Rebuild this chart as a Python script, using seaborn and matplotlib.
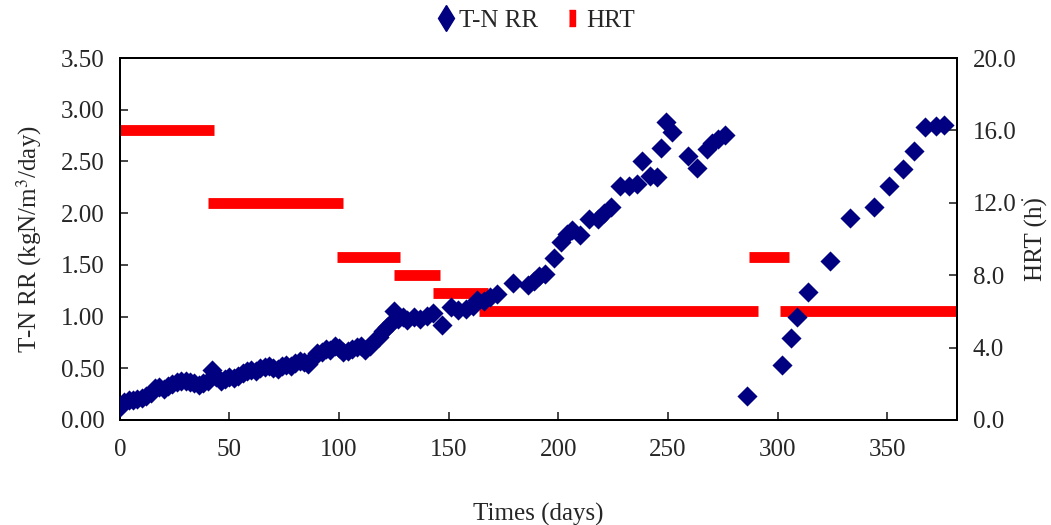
import numpy as np
import pandas as pd
import seaborn as sns
import matplotlib.pyplot as plt
from matplotlib.lines import Line2D

# T-N removal rate (kgN/m3/day) by day
days = [0, 2, 4, 6, 8, 10, 12, 14, 16, 18, 20, 22, 24, 26, 28, 30, 32, 34, 36, 38,
        40, 42, 44, 46, 48, 50, 52, 54, 56, 58, 60, 62, 64, 66, 68, 70, 72, 74, 76, 78,
        80, 82, 84, 86, 88, 90, 92, 94, 96, 98, 100, 102, 104, 106, 108, 110, 112, 114,
        116, 118, 120, 122, 124, 125, 127, 129, 131, 134, 137, 140, 143, 147, 151, 154,
        158, 161, 163, 166, 169, 172, 179.5, 186, 189, 191, 194, 198, 201, 204, 206, 210,
        214, 218, 221, 224, 228, 232, 236, 238, 242, 245, 247, 249, 252, 259, 263, 268,
        270, 273, 276, 286, 302, 306, 309, 314, 324, 333, 344, 351, 357, 362, 367, 372, 376]
tn_rr = [0.13, 0.17, 0.19, 0.19, 0.20, 0.21, 0.23, 0.26, 0.31, 0.32, 0.30, 0.33, 0.35, 0.37,
         0.38, 0.38, 0.37, 0.36, 0.34, 0.36, 0.38, 0.48, 0.42, 0.38, 0.40, 0.42, 0.41, 0.43,
         0.45, 0.47, 0.48, 0.47, 0.50, 0.51, 0.52, 0.50, 0.49, 0.52, 0.53, 0.52, 0.55, 0.57,
         0.56, 0.54, 0.60, 0.65, 0.66, 0.69, 0.68, 0.72, 0.70, 0.66, 0.67, 0.69, 0.71, 0.72,
         0.68, 0.72, 0.76, 0.80, 0.86, 0.90, 0.95, 1.05, 0.98, 1.00, 0.97, 1.00, 0.98, 1.01,
         1.03, 0.92, 1.09, 1.06, 1.07, 1.10, 1.16, 1.15, 1.19, 1.22, 1.32, 1.31, 1.34, 1.39,
         1.41, 1.57, 1.72, 1.80, 1.84, 1.79, 1.94, 1.94, 2.00, 2.06, 2.26, 2.26, 2.28, 2.50,
         2.36, 2.35, 2.63, 2.88, 2.78, 2.55, 2.44, 2.62, 2.68, 2.72, 2.76, 0.23, 0.53, 0.79,
         1.00, 1.24, 1.54, 1.95, 2.06, 2.26, 2.43, 2.60, 2.83, 2.84, 2.85]

# HRT (h) periods
hrt_start = [0, 40, 99, 125, 143, 164, 287, 301]
hrt_end = [43, 102, 128, 146, 168, 291, 305, 383]
hrt_value = [16, 12, 9, 8, 7, 6, 9, 6]

x_ticks = [0, 50, 100, 150, 200, 250, 300, 350]
left_ticks = [0.0, 0.5, 1.0, 1.5, 2.0, 2.5, 3.0, 3.5]
right_ticks = [0, 4, 8, 12, 16, 20]

sns.set_style('ticks')
plt.rcParams['font.family'] = ['Liberation Serif', 'DejaVu Serif']
plt.rcParams['mathtext.fontset'] = 'stix'

df = pd.DataFrame({'day': days, 'rr': tn_rr})

fig = plt.figure(figsize=(10.51, 5.25), dpi=100)
ax = fig.add_axes([0.114, 0.2, 0.797, 0.6895])
ax2 = ax.twinx()

# HRT drawn as thick horizontal bars on the right axis
ax2.hlines(hrt_value, hrt_start, hrt_end, colors='#ff0000', linewidth=7.8, zorder=1)

sns.scatterplot(data=df, x='day', y='rr', ax=ax, marker='D', s=105, color='#000080',
                edgecolor='#000080', linewidth=0, zorder=3)
ax.set_zorder(ax2.get_zorder() + 1)
ax.patch.set_visible(False)

ax.set_xlim(0, 382)
ax.set_ylim(0, 3.5)
ax2.set_ylim(0, 20)
ax.set_xticks(x_ticks)
ax.set_yticks(left_ticks)
ax.set_yticklabels([f'{v:.2f}' for v in left_ticks])
ax2.set_yticks(right_ticks)
ax2.set_yticklabels([f'{v:.1f}' for v in right_ticks])

for a in (ax, ax2):
    a.tick_params(direction='in', length=6, width=1.2, labelsize=18, pad=11)
    for sp in a.spines.values():
        sp.set_linewidth(1.4)
        sp.set_color('black')
ax.tick_params(axis='x', pad=14)

ax.set_xlabel('Times (days)', fontsize=18, labelpad=30)
ax.set_ylabel('T-N RR (kgN/m$^3$/day)', fontsize=18, labelpad=12)
ax2.set_ylabel('HRT (h)', fontsize=18, labelpad=6)
fig.text(0.972, 0.625, '.', fontsize=12, ha='center', va='center')

rect = [(-0.35, -1), (0.35, -1), (0.35, 1), (-0.35, 1)]
handles = [Line2D([], [], marker='d', color='#000080', linestyle='none', markersize=13),
           Line2D([], [], marker=rect, color='#ff0000', linestyle='none', markersize=11)]
fig.legend(handles, ['T-N RR', 'HRT'], loc='upper center', bbox_to_anchor=(0.505, 1.025),
           ncol=2, frameon=False, fontsize=18, handletextpad=-0.2, columnspacing=0.6,
           handlelength=1.5)

fig.savefig('out.png', dpi=100)
